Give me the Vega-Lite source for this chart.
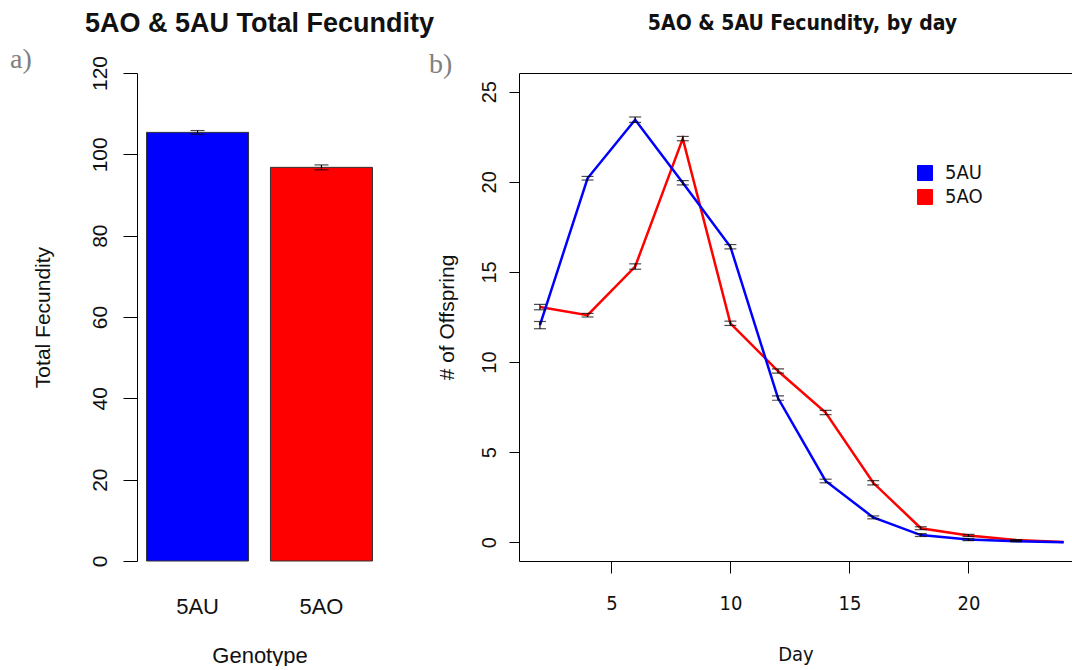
{
  "$schema": "https://vega.github.io/schema/vega-lite/v6.json",
  "background": "white",
  "autosize": {"type": "pad"},
  "padding": {"left": 10, "top": 10, "right": 0, "bottom": 0},
  "config": {
    "view": {"stroke": null},
    "axis": {"grid": false, "domainColor": "black", "tickColor": "black", "labelColor": "#111", "titleColor": "#111", "titleFontWeight": "normal", "domainWidth": 1, "tickWidth": 1}
  },
  "datasets": {
    "totals": [
      {"genotype": "5AU", "total": 105.4, "lo": 104.95, "hi": 105.85},
      {"genotype": "5AO", "total": 96.8, "lo": 96.2, "hi": 97.4}
    ],
    "daily": [
      {"genotype": "5AO", "day": 2, "mean": 13.05, "lo": 12.9, "hi": 13.2},
      {"genotype": "5AO", "day": 4, "mean": 12.6, "lo": 12.5, "hi": 12.7},
      {"genotype": "5AO", "day": 6, "mean": 15.3, "lo": 15.15, "hi": 15.45},
      {"genotype": "5AO", "day": 8, "mean": 22.4, "lo": 22.28, "hi": 22.52},
      {"genotype": "5AO", "day": 10, "mean": 12.15, "lo": 12.03, "hi": 12.27},
      {"genotype": "5AO", "day": 12, "mean": 9.5, "lo": 9.38, "hi": 9.62},
      {"genotype": "5AO", "day": 14, "mean": 7.2, "lo": 7.08, "hi": 7.32},
      {"genotype": "5AO", "day": 16, "mean": 3.3, "lo": 3.18, "hi": 3.42},
      {"genotype": "5AO", "day": 18, "mean": 0.78, "lo": 0.7, "hi": 0.86},
      {"genotype": "5AO", "day": 20, "mean": 0.38, "lo": 0.32, "hi": 0.44},
      {"genotype": "5AO", "day": 22, "mean": 0.12, "lo": 0.09, "hi": 0.15},
      {"genotype": "5AO", "day": 24, "mean": 0.02, "lo": null, "hi": null},
      {"genotype": "5AU", "day": 2, "mean": 12.05, "lo": 11.85, "hi": 12.25},
      {"genotype": "5AU", "day": 4, "mean": 20.2, "lo": 20.1, "hi": 20.3},
      {"genotype": "5AU", "day": 6, "mean": 23.45, "lo": 23.3, "hi": 23.6},
      {"genotype": "5AU", "day": 8, "mean": 19.95, "lo": 19.83, "hi": 20.07},
      {"genotype": "5AU", "day": 10, "mean": 16.4, "lo": 16.28, "hi": 16.52},
      {"genotype": "5AU", "day": 12, "mean": 8.0, "lo": 7.88, "hi": 8.12},
      {"genotype": "5AU", "day": 14, "mean": 3.4, "lo": 3.3, "hi": 3.5},
      {"genotype": "5AU", "day": 16, "mean": 1.38, "lo": 1.3, "hi": 1.46},
      {"genotype": "5AU", "day": 18, "mean": 0.4, "lo": 0.32, "hi": 0.48},
      {"genotype": "5AU", "day": 20, "mean": 0.15, "lo": 0.09, "hi": 0.21},
      {"genotype": "5AU", "day": 22, "mean": 0.06, "lo": 0.03, "hi": 0.09},
      {"genotype": "5AU", "day": 24, "mean": 0.0, "lo": null, "hi": null}
    ]
  },
  "spacing": -7,
  "resolve": {"scale": {"color": "independent"}, "legend": {"color": "independent"}},
  "hconcat": [
    {
      "title": {"text": "a)", "anchor": "start", "font": "Liberation Serif", "fontSize": 28, "fontWeight": "normal", "color": "#808080", "dx": -22, "dy": 68},
      "resolve": {"scale": {"color": "independent"}, "legend": {"color": "independent"}},
      "vconcat": [
        {
          "width": 245,
          "height": 488,
          "title": {"text": "5AO & 5AU Total Fecundity", "font": "Liberation Sans", "fontSize": 27, "fontWeight": "bold", "color": "#111", "offset": 17},
          "data": {"name": "totals"},
          "encoding": {
            "x": {
              "field": "genotype", "type": "nominal", "sort": ["5AU", "5AO"],
              "scale": {"paddingInner": 0.177, "paddingOuter": 0.077},
              "axis": {"title": "Genotype", "labelAngle": 0, "labelFont": "Liberation Sans", "labelFontSize": 22, "titleFont": "Liberation Sans", "titleFontSize": 22, "domain": false, "ticks": false, "labelPadding": 35, "titlePadding": 28}
            }
          },
          "layer": [
            {
              "mark": {"type": "bar", "stroke": "#333", "strokeWidth": 1},
              "encoding": {
                "y": {
                  "field": "total", "type": "quantitative", "title": "Total Fecundity",
                  "scale": {"domain": [0, 120], "nice": false},
                  "axis": {"values": [0, 20, 40, 60, 80, 100, 120], "labelAngle": -90, "labelAlign": "center", "labelBaseline": "alphabetic", "labelFont": "Liberation Sans", "labelFontSize": 21, "tickSize": 14, "labelPadding": 17, "titleFont": "Liberation Sans", "titleFontSize": 21, "titlePadding": 36}
                },
                "color": {"field": "genotype", "type": "nominal", "scale": {"domain": ["5AU", "5AO"], "range": ["#0000FF", "#FF0000"]}, "legend": null}
              }
            },
            {
              "mark": {"type": "errorbar", "color": "black", "thickness": 1.2, "ticks": {"size": 14, "color": "black"}},
              "encoding": {
                "y": {"field": "lo", "type": "quantitative", "title": "Total Fecundity"},
                "y2": {"field": "hi"}
              }
            }
          ]
        }
      ]
    },
    {
      "title": {"text": "b)", "anchor": "start", "font": "Liberation Serif", "fontSize": 28, "fontWeight": "normal", "color": "#808080", "dx": -7, "dy": 70},
      "resolve": {"scale": {"color": "independent"}, "legend": {"color": "independent"}},
      "vconcat": [
        {
          "width": 553,
          "height": 488,
          "title": {"text": "5AO & 5AU Fecundity, by day", "font": "DejaVu Sans Condensed, Liberation Sans", "fontSize": 21, "fontWeight": "bold", "color": "#111", "offset": 33, "dx": 7, "dy": -6},
          "data": {"name": "daily"},
          "resolve": {"axis": {"x": "independent"}},
          "layer": [
            {
              "mark": {"type": "line", "strokeWidth": 2.5},
              "encoding": {
                "x": {
                  "field": "day", "type": "quantitative", "title": "Day",
                  "scale": {"domain": [1.12, 24.35], "nice": false, "zero": false},
                  "axis": {"values": [5, 10, 15, 20], "labelFont": "DejaVu Sans Condensed, Liberation Sans", "labelFontSize": 20, "titleFont": "DejaVu Sans Condensed, Liberation Sans", "titleFontSize": 20, "tickSize": 12, "labelPadding": 20, "titlePadding": 31}
                },
                "y": {
                  "field": "mean", "type": "quantitative", "title": "# of Offspring",
                  "scale": {"domain": [-1.04, 26.04], "nice": false, "zero": false},
                  "axis": {"values": [0, 5, 10, 15, 20, 25], "labelAngle": -90, "labelAlign": "center", "labelBaseline": "alphabetic", "labelFont": "Liberation Sans", "labelFontSize": 20, "tickSize": 10, "labelPadding": 14, "titleFont": "Liberation Sans", "titleFontSize": 21, "titlePadding": 22}
                },
                "color": {
                  "field": "genotype", "type": "nominal",
                  "scale": {"domain": ["5AU", "5AO"], "range": ["#0000FF", "#FF0000"]},
                  "legend": {
                    "title": null, "orient": "none", "legendX": 396, "legendY": 90,
                    "symbolType": "square", "symbolSize": 225, "symbolStrokeColor": "black", "symbolStrokeWidth": 1,
                    "labelFont": "DejaVu Sans Condensed, Liberation Sans", "labelFontSize": 20, "labelColor": "#111", "labelOffset": 10, "rowPadding": 4,
                    "encode": {"symbols": {"update": {"fill": {"signal": "datum.value === '5AU' ? '#0000FF' : '#FF0000'"}, "fillOpacity": {"value": 1}, "stroke": {"value": "black"}}}}
                  }
                }
              }
            },
            {
              "transform": [{"filter": "datum.lo != null"}],
              "mark": {"type": "errorbar", "color": "black", "thickness": 1.2, "ticks": {"size": 12, "color": "black"}},
              "encoding": {
                "x": {
                  "field": "day", "type": "quantitative", "title": "Day",
                  "axis": {"orient": "top", "title": null, "labels": false, "ticks": false, "domain": true}
                },
                "y": {"field": "lo", "type": "quantitative", "title": "# of Offspring"},
                "y2": {"field": "hi"}
              }
            }
          ]
        }
      ]
    }
  ]
}
